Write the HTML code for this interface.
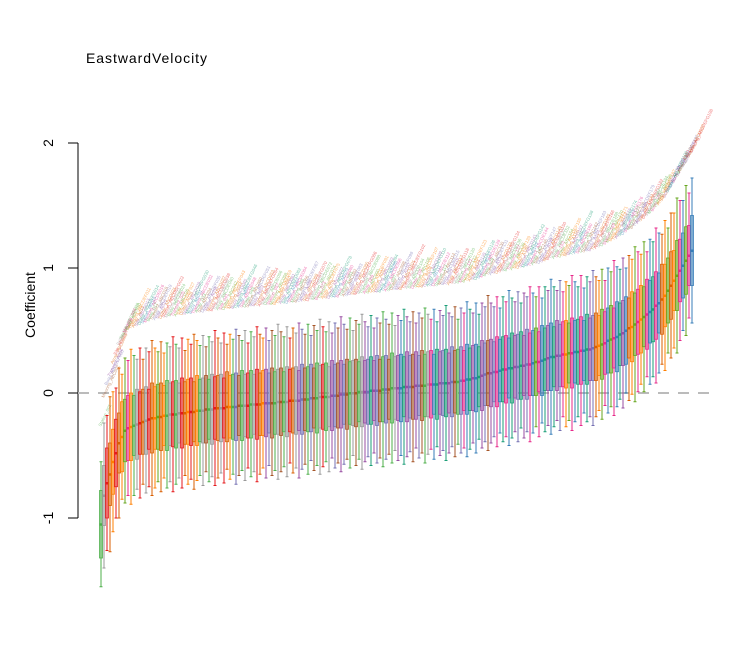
<!DOCTYPE html>
<html><head><meta charset="utf-8"><style>
html,body{margin:0;padding:0;background:#fff;}
svg{display:block;font-family:"Liberation Sans",Arial,sans-serif;}
</style></head><body>
<svg id="chart" width="737" height="653" viewBox="0 0 737 653">
<text x="86" y="63" font-size="14" textLength="121" fill="#000">EastwardVelocity</text>
<text transform="translate(35,305) rotate(-90)" text-anchor="middle" font-size="14" fill="#000">Coefficient</text>
<g id="yaxis"></g>
<line x1="78" x2="718" y1="393" y2="393" stroke="#bbb" stroke-width="2" stroke-dasharray="11,9"></line>
<g id="labels"></g>
<g id="bars"></g>
</svg>
<script>
const centers=[-1.05,-0.82,-0.72,-0.65,-0.55,-0.48,-0.40,-0.35,-0.30,-0.28,
-0.27,-0.26,-0.25,-0.24,-0.23,-0.22,-0.21,-0.20,-0.20,-0.19,
-0.19,-0.18,-0.18,-0.17,-0.17,-0.17,-0.16,-0.16,-0.16,-0.15,
-0.15,-0.15,-0.14,-0.14,-0.14,-0.13,-0.13,-0.13,-0.12,-0.12,
-0.12,-0.12,-0.11,-0.11,-0.11,-0.11,-0.10,-0.10,-0.10,-0.10,
-0.09,-0.09,-0.09,-0.09,-0.08,-0.08,-0.08,-0.08,-0.08,-0.07,
-0.07,-0.07,-0.07,-0.06,-0.06,-0.06,-0.06,-0.05,-0.05,-0.05,
-0.04,-0.04,-0.04,-0.03,-0.03,-0.03,-0.03,-0.02,-0.02,-0.02,
-0.01,-0.01,-0.01,0.00,0.00,0.00,0.01,0.01,0.01,0.01,
0.02,0.02,0.02,0.02,0.03,0.03,0.03,0.04,0.04,0.04,
0.04,0.05,0.05,0.05,0.05,0.06,0.06,0.06,0.06,0.07,
0.07,0.07,0.07,0.08,0.08,0.08,0.08,0.09,0.09,0.09,
0.10,0.10,0.11,0.11,0.12,0.12,0.13,0.14,0.15,0.16,
0.16,0.17,0.17,0.18,0.19,0.19,0.20,0.20,0.21,0.21,
0.22,0.22,0.23,0.23,0.24,0.25,0.25,0.26,0.27,0.28,
0.29,0.29,0.30,0.30,0.31,0.31,0.32,0.32,0.33,0.33,
0.34,0.34,0.35,0.35,0.36,0.37,0.38,0.39,0.40,0.42,
0.43,0.44,0.45,0.47,0.48,0.50,0.52,0.53,0.55,0.57,
0.59,0.61,0.63,0.65,0.67,0.70,0.72,0.75,0.78,0.82,
0.86,0.90,0.94,0.98,1.02,1.06,1.10,1.14];
const boxHalf=[0.27,0.24,0.28,0.25,0.26];
const whiskerHalf=[0.50,0.58,0.54,0.62,0.56,0.52,0.6];
const yTicks=[2,1,0,-1];
const tickLabels=["2","1","0","-1"];
const palette=["#4daf4a","#377eb8","#e41a1c","#984ea3","#ff7f00","#a65628","#e7298a","#999999","#1b9e77","#d95f02","#7570b3","#66a61e"];
const names=["Station","Mooring","Buoy","Transect","Array","Site","Drifter"];
const NS="http://www.w3.org/2000/svg";
const y=v=>393-125*v;
const x=i=>101+i*(591/(centers.length-1));
function mk(t,a,p){const e=document.createElementNS(NS,t);for(const k in a)e.setAttribute(k,a[k]);p.appendChild(e);return e;}
const ya=document.getElementById('yaxis');
const ax=mk('line',{x1:78,x2:78,y1:y(2),y2:y(-1),stroke:'#000'},ya);


yTicks.forEach((t,k)=>{
 const l=mk('line',{x1:68,x2:78,y1:y(t),y2:y(t),stroke:'#000'},ya);
 
 
 const tx=mk('text',{transform:`translate(${53},${y(t)}) rotate(-90)`,'text-anchor':'middle','font-size':14},ya);
 tx.textContent=tickLabels[k];
 
 
});
const bg=document.getElementById('bars'),lg=document.getElementById('labels');
centers.forEach((c,i)=>{
 const col=palette[(i*7+Math.floor(i/5)*3+Math.floor(i/11))%palette.length];
 const cx=x(i),bh=boxHalf[i%5],wh=whiskerHalf[i%7];
 const g=mk('g',{},bg);
 
 
 mk('line',{x1:cx,x2:cx,y1:y(c+wh),y2:y(c-wh),stroke:col,'stroke-width':1},g);
 mk('line',{x1:cx-1.5,x2:cx+1.5,y1:y(c+wh),y2:y(c+wh),stroke:col},g);
 mk('line',{x1:cx-1.5,x2:cx+1.5,y1:y(c-wh),y2:y(c-wh),stroke:col},g);
 mk('rect',{x:cx-1.5,y:y(c+bh),width:3,height:250*bh,fill:col,'fill-opacity':0.3,stroke:col,'stroke-width':0.8},g);
 mk('rect',{x:cx-1.5,y:y(c)-1,width:3,height:2.5,fill:col},g);
 const t=mk('text',{transform:`translate(${cx},${y(c+0.78)}) rotate(-64)`,'font-size':4.5,fill:palette[(i*5+Math.floor(i/4))%palette.length],'fill-opacity':0.6},lg);
 t.textContent=names[i%7]+'_'+'ABCDEFGH'.slice(0,(i*3)%8)+String(i+1).padStart(3,'0');
 
 
});
</script>
</body></html>
